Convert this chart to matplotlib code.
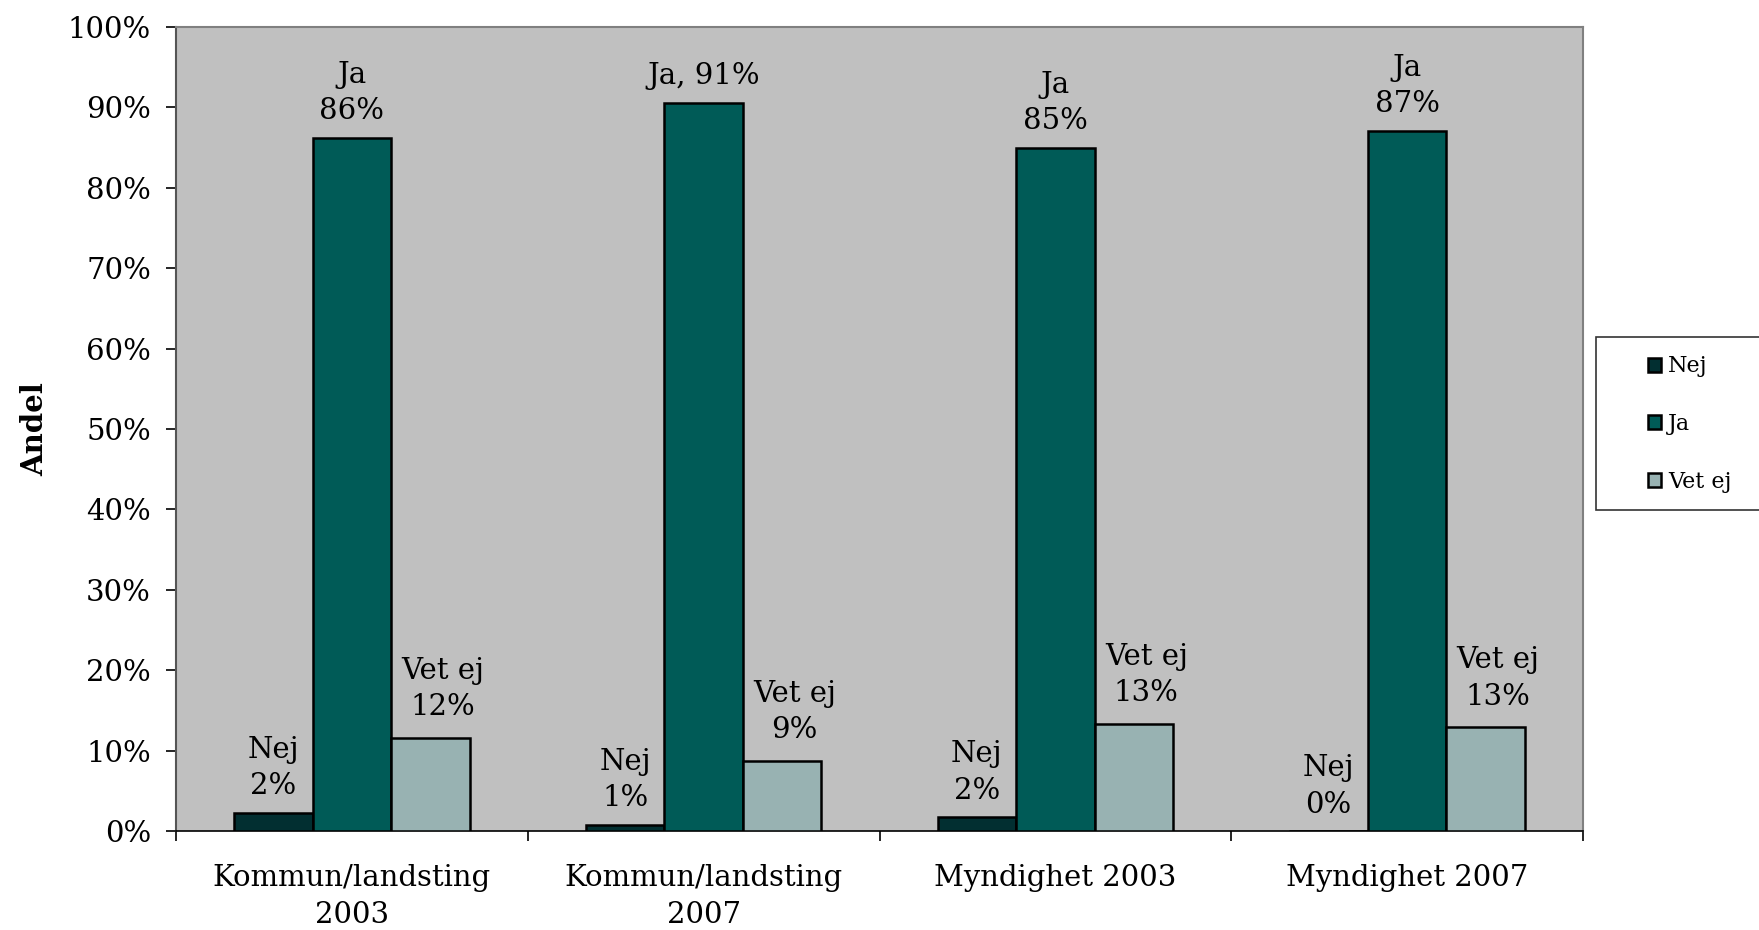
import matplotlib
matplotlib.use("Agg")
import matplotlib.pyplot as plt
from matplotlib.patches import Rectangle
import numpy as np

categories = ["Kommun/landsting\n2003", "Kommun/landsting\n2007", "Myndighet 2003", "Myndighet 2007"]
series_names = ["Nej", "Ja", "Vet ej"]
nej = [2.3, 0.8, 1.7, 0.0]
ja = [86.2, 90.6, 85.0, 87.1]
vet_ej = [11.6, 8.7, 13.3, 12.9]
colors = ["#022F31", "#005B57", "#98B2B2"]
yticks = [0, 10, 20, 30, 40, 50, 60, 70, 80, 90, 100]

plt.rcParams['font.family'] = ['DejaVu Serif']
FS = 21

fig = plt.figure(figsize=(17.59, 9.30), dpi=100)
ax = fig.add_axes([176/1759, 1 - 831/930, (1583-176)/1759, (831-27)/930])
ax.set_facecolor("#C0C0C0")

x = np.arange(len(categories))
w = 0.223
data = [nej, ja, vet_ej]
bars = []
for i, (name, vals, c) in enumerate(zip(series_names, data, colors)):
    b = ax.bar(x + (i - 1) * w, vals, w, color=c, edgecolor="black", linewidth=1.8,
               label=name, zorder=3)
    bars.append(b)
    for j, v in enumerate(vals):
        if name == "Ja" and j == 1:
            txt = f"{name}, {round(v)}%"
        else:
            txt = f"{name}\n{round(v)}%"
        off = (9, 12) if name == "Vet ej" else (0, 9)
        ax.annotate(txt, (x[j] + (i - 1) * w, v), xytext=off, textcoords="offset points",
                    ha="center", va="bottom", fontsize=FS, linespacing=1.38, zorder=4)

ax.set_xlim(-0.5, len(categories) - 0.5)
ax.set_ylim(0, 100)
ax.set_yticks(yticks)
ax.set_yticklabels([f"{t}%" for t in yticks], fontsize=FS)
ax.tick_params(axis="y", length=7, width=1.2, pad=11, direction="out", colors="black")
ax.set_xticks(np.arange(len(categories) + 1) - 0.5)
ax.set_xticklabels([])
ax.tick_params(axis="x", which="major", length=7, width=1.2, direction="out")
ax.set_xticks(x, minor=True)
ax.set_xticklabels(categories, minor=True, fontsize=FS, linespacing=1.4)
ax.tick_params(axis="x", which="minor", length=0, pad=24)

for s in ["top", "right"]:
    ax.spines[s].set_color("#808080")
    ax.spines[s].set_linewidth(1.5)
ax.spines["left"].set_color("#555555")
ax.spines["left"].set_linewidth(1.5)
ax.spines["bottom"].set_color("black")
ax.spines["bottom"].set_linewidth(1.2)

ax.set_ylabel("Andel", fontsize=FS, fontweight="bold", labelpad=13)

# legend box
fig.patches.append(Rectangle((1596/1759, 1 - 510/930), (1800-1596)/1759, (510-337)/930,
                             transform=fig.transFigure, facecolor="white",
                             edgecolor="#333333", linewidth=1.2, clip_on=False))
fig.legend(handles=bars, labels=series_names, loc="center left",
           bbox_to_anchor=(1628/1759, 1 - 424/930), frameon=False, fontsize=16,
           handlelength=0.6, handleheight=0.6, handletextpad=0.3, labelspacing=1.6)

fig.savefig("out.png", dpi=100)
